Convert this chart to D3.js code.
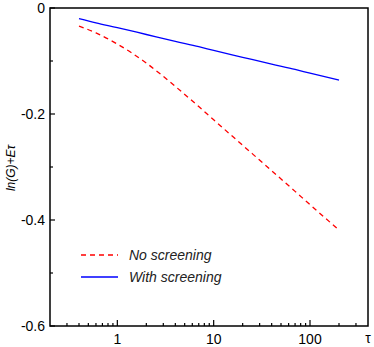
<!DOCTYPE html>
<html>
<head>
<meta charset="utf-8">
<script src="https://cdn.jsdelivr.net/npm/d3@7"></script>
<style>
  body { margin: 0; background: #fff; }
  svg { display: block; font-family: "Liberation Sans", Arial, sans-serif; }
</style>
</head>
<body>
<div id="chart"></div>
<script>
// values
var tau = [0.4, 0.6, 1, 2, 4, 7, 10, 20, 40, 70, 100, 200];
var noScreening = [-0.034, -0.047, -0.068, -0.104, -0.148, -0.186, -0.211, -0.259, -0.307, -0.346, -0.371, -0.419];
var withScreening = [-0.020, -0.028, -0.037, -0.050, -0.063, -0.073, -0.080, -0.093, -0.106, -0.116, -0.123, -0.136];
var xTicks = [1, 10, 100];
var yTicks = [0, -0.2, -0.4, -0.6];

var width = 374, height = 347;
var margin = { top: 8, right: 6, bottom: 21, left: 50 };
var w = width - margin.left - margin.right,
    h = height - margin.top - margin.bottom;

var svg = d3.select("#chart").append("svg")
    .attr("width", width)
    .attr("height", height);

var g = svg.append("g")
    .attr("transform", "translate(" + margin.left + "," + margin.top + ")");

var x = d3.scaleLog().domain([0.2, 400]).range([0, w]);
var y = d3.scaleLinear().domain([-0.6, 0]).range([h, 0]);

// minor ticks on the log axis
var xMinor = [];
[0.1, 1, 10, 100].forEach(function (d) {
  for (var k = 2; k <= 9; k++) {
    var v = d * k;
    if (v > 0.2 && v < 400 && xTicks.indexOf(v) < 0) xMinor.push(v);
  }
});
var yMinor = [-0.1, -0.3, -0.5];

var ax = g.append("g").attr("stroke", "#000").attr("stroke-width", 1.2);
ax.selectAll(".xmaj").data(xTicks).enter().append("line")
    .attr("x1", function(d) { return x(d); }).attr("x2", function(d) { return x(d); })
    .attr("y1", h).attr("y2", h - 6);
ax.selectAll(".xmin").data(xMinor).enter().append("line")
    .attr("x1", function(d) { return x(d); }).attr("x2", function(d) { return x(d); })
    .attr("y1", h).attr("y2", h - 3);
ax.selectAll(".ymaj").data(yTicks).enter().append("line")
    .attr("x1", 0).attr("x2", 5)
    .attr("y1", function(d) { return y(d); }).attr("y2", function(d) { return y(d); });
ax.selectAll(".ymin").data(yMinor).enter().append("line")
    .attr("x1", 0).attr("x2", 3)
    .attr("y1", function(d) { return y(d); }).attr("y2", function(d) { return y(d); });

// frame
g.append("rect")
    .attr("width", w).attr("height", h)
    .attr("fill", "none").attr("stroke", "#000").attr("stroke-width", 1.5);

// tick labels
g.selectAll(".xl").data(xTicks).enter().append("text")
    .attr("x", function(d) { return x(d); })
    .attr("y", h + 18)
    .attr("text-anchor", "middle")
    .attr("font-size", 14)
    .text(function(d) { return d; });

g.selectAll(".yl").data(yTicks).enter().append("text")
    .attr("x", -5)
    .attr("y", function(d) { return y(d) + 5; })
    .attr("text-anchor", "end")
    .attr("font-size", 14)
    .text(function(d) { return d === 0 ? "0" : d3.format(".1f")(d).replace("−", "-"); });

// axis titles
svg.append("text")
    .attr("x", 368).attr("y", 343)
    .attr("text-anchor", "middle")
    .attr("font-size", 14)
    .text("τ");

svg.append("text")
    .attr("transform", "translate(15,168) rotate(-90)")
    .attr("text-anchor", "middle")
    .attr("font-size", 12)
    .attr("font-style", "italic")
    .text("ln(G)+Eτ");

// curves
var line = d3.line()
    .x(function(d) { return x(d[0]); })
    .y(function(d) { return y(d[1]); })
    .curve(d3.curveMonotoneX);

g.append("path")
    .datum(d3.zip(tau, withScreening))
    .attr("fill", "none").attr("stroke", "#0000ff").attr("stroke-width", 1.3)
    .attr("d", line);

g.append("path")
    .datum(d3.zip(tau, noScreening))
    .attr("fill", "none").attr("stroke", "#ff0000").attr("stroke-width", 1.3)
    .attr("stroke-dasharray", "5,4")
    .attr("d", line);

// legend
var legend = [
  { name: "No screening", color: "#ff0000", dash: "5,4" },
  { name: "With screening", color: "#0000ff", dash: null }
];
var lg = svg.selectAll(".lg").data(legend).enter().append("g")
    .attr("transform", function(d, i) { return "translate(81," + (255 + i * 22) + ")"; });
lg.append("line")
    .attr("x1", 0).attr("x2", 37)
    .attr("stroke", function(d) { return d.color; })
    .attr("stroke-width", 1.3)
    .attr("stroke-dasharray", function(d) { return d.dash; });
lg.append("text")
    .attr("x", 48).attr("y", 5)
    .attr("font-size", 14)
    .attr("font-style", "italic")
    .attr("fill", "#222")
    .text(function(d) { return d.name; });
</script>
</body>
</html>
